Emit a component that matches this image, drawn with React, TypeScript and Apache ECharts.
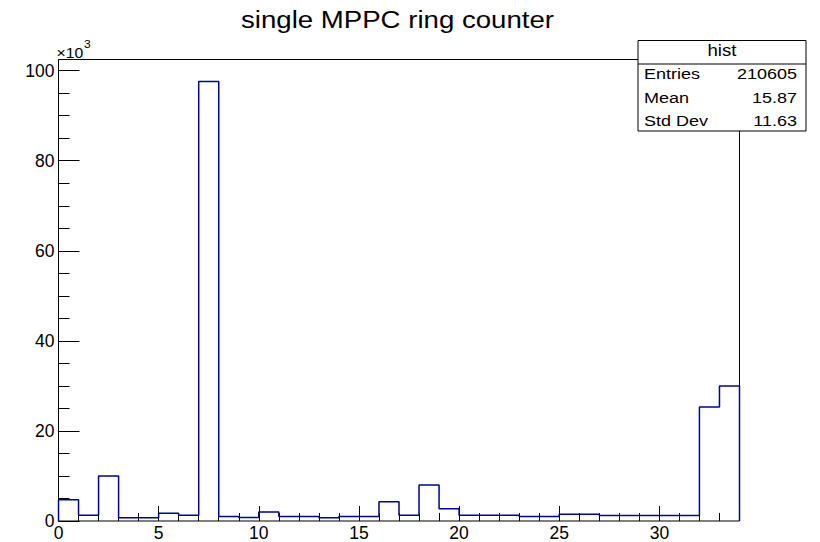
import React, { useEffect, useRef } from "react";
import * as echarts from "echarts";

// histogram "hist": 34 bins of width 1 from 0 to 34
const binLowEdges = [
  0, 1, 2, 3, 4, 5, 6, 7, 8, 9, 10, 11, 12, 13, 14, 15, 16, 17, 18, 19, 20,
  21, 22, 23, 24, 25, 26, 27, 28, 29, 30, 31, 32, 33,
];
const binWidth = 1;
const counts = [
  4700, 1300, 10000, 700, 700, 1700, 1300, 97600, 1000, 800, 2000, 1000, 1000,
  700, 1000, 1000, 4300, 1300, 8000, 2700, 1300, 1300, 1300, 1000, 1000, 1500,
  1500, 1200, 1200, 1200, 1200, 1200, 25300, 30000,
];
const statLabels = ["Entries", "Mean", "Std Dev"];
const statValues = ["210605", "15.87", "11.63"];
const titleText = "single MPPC ring counter";
const histName = "hist";
const yExponentBase = "×10";
const yExponent = "3";

const FONT = "'Liberation Sans', Arial, Helvetica, sans-serif";

export default function App() {
  const ref = useRef<HTMLDivElement>(null);

  useEffect(() => {
    if (!ref.current) return;
    const chart = echarts.init(ref.current, null, { renderer: "svg" });

    const xMax = binLowEdges[binLowEdges.length - 1] + binWidth;
    const yMax = Math.max(...counts) * 1.05;

    // outline points: start at 0, step along each bin, drop to 0 at the end
    const pts: number[][] = [[binLowEdges[0], 0]];
    binLowEdges.forEach((x, i) => pts.push([x, counts[i]]));
    pts.push([xMax, counts[counts.length - 1]]);
    pts.push([xMax, 0]);

    const gridL = 58.5;
    const gridT = 59.5;
    const gridW = 681;
    const gridH = 461.5;

    const txt = (
      text: string,
      x: number,
      y: number,
      fontSize: number,
      align: string,
      scaleX: number,
      z = 102
    ) => ({
      type: "text",
      x,
      y,
      scaleX,
      scaleY: 1,
      z,
      style: {
        text,
        fontFamily: FONT,
        fontSize,
        fill: "#000",
        align,
        verticalAlign: "middle",
      },
    });

    const statsGraphics: any[] = [];
    const boxL = 638;
    const boxR = 806;
    const boxT = 40.5;
    const headB = 64;
    const boxB = 131;
    statsGraphics.push({
      type: "rect",
      shape: { x: boxL, y: boxT, width: boxR - boxL, height: boxB - boxT },
      style: { fill: "#fff", stroke: "#000", lineWidth: 1 },
      z: 100,
    });
    statsGraphics.push({
      type: "line",
      shape: { x1: boxL, y1: headB, x2: boxR, y2: headB },
      style: { stroke: "#000", lineWidth: 1 },
      z: 101,
    });
    statsGraphics.push(txt(histName, (boxL + boxR) / 2, 50.5, 16.5, "center", 1.13));
    const rowY = [74.5, 98, 121.5];
    statLabels.forEach((lab, i) => {
      statsGraphics.push(txt(lab, 644, rowY[i], 15, "left", 1.2));
      statsGraphics.push(txt(statValues[i], 797, rowY[i], 15, "right", 1.2));
    });

    const option: any = {
      animation: false,
      backgroundColor: "#fff",
      grid: {
        left: gridL,
        top: gridT,
        width: gridW,
        height: gridH,
        show: true,
        borderColor: "#000",
        borderWidth: 1,
        backgroundColor: "transparent",
      },
      xAxis: [
        {
          type: "value",
          min: 0,
          max: xMax,
          interval: 5,
          position: "bottom",
          axisLine: { show: false },
          axisTick: { show: true, inside: true, length: 15, lineStyle: { color: "#000", width: 1 } },
          axisLabel: {
            show: true,
            showMaxLabel: false,
            margin: 3,
            color: "#000",
            fontFamily: FONT,
            fontSize: 17.5,
          },
          splitLine: { show: false },
        },
        {
          type: "value",
          min: 0,
          max: xMax,
          interval: binWidth,
          position: "bottom",
          axisLine: { show: false },
          axisTick: { show: true, inside: true, length: 8, lineStyle: { color: "#000", width: 1 } },
          axisLabel: { show: false },
          splitLine: { show: false },
        },
      ],
      yAxis: [
        {
          type: "value",
          min: 0,
          max: yMax,
          interval: 20000,
          position: "left",
          axisLine: { show: false },
          axisTick: { show: true, inside: true, length: 21, lineStyle: { color: "#000", width: 1 } },
          axisLabel: {
            show: true,
            showMaxLabel: false,
            margin: 4,
            color: "#000",
            fontFamily: FONT,
            fontSize: 17.5,
            formatter: (v: number) => String(Math.round(v / 1000)),
          },
          splitLine: { show: false },
        },
        {
          type: "value",
          min: 0,
          max: yMax,
          interval: 5000,
          position: "left",
          axisLine: { show: false },
          axisTick: { show: true, inside: true, length: 11, lineStyle: { color: "#000", width: 1 } },
          axisLabel: { show: false },
          splitLine: { show: false },
        },
      ],
      series: [
        {
          type: "line",
          name: histName,
          xAxisIndex: 0,
          yAxisIndex: 0,
          step: "end",
          data: pts,
          showSymbol: false,
          symbol: "none",
          lineStyle: { color: "#0000a0", width: 1.5 },
          clip: false,
          z: 5,
        },
      ],
      graphic: [
        txt(titleText, 397.5, 19.8, 24, "center", 1.15, 10),
        txt(yExponentBase, 56.5, 52.5, 15, "left", 1.05, 10),
        txt(yExponent, 84, 43.5, 11.5, "left", 1.05, 10),
        ...statsGraphics,
      ],
    };

    chart.setOption(option);
    return () => chart.dispose();
  }, []);

  return (
    <div
      ref={ref}
      style={{ position: "fixed", left: 0, top: 0, width: 820, height: 542 }}
    />
  );
}
